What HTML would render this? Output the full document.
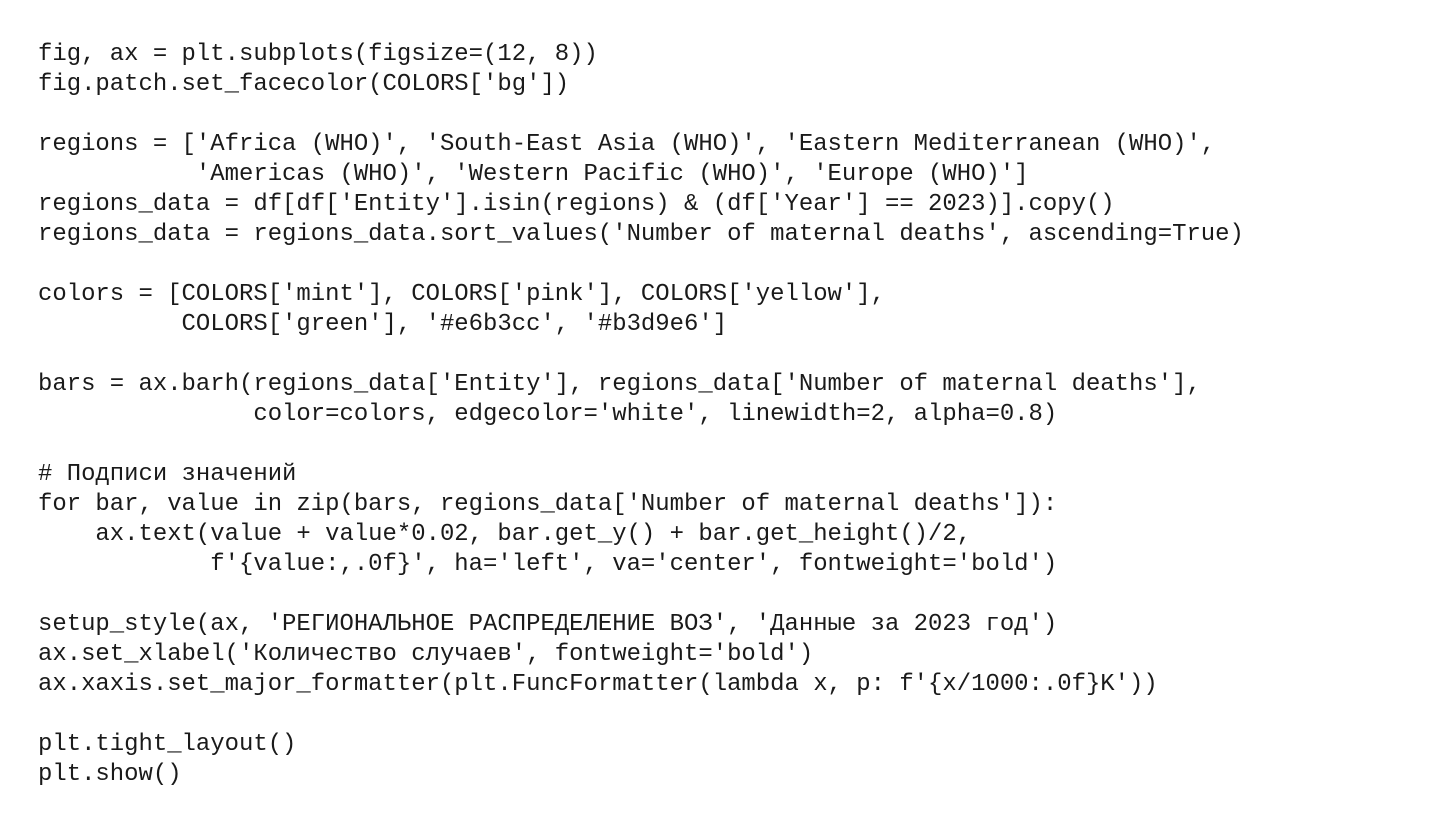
<!DOCTYPE html>
<html><head><meta charset="utf-8"><style>
html,body{margin:0;padding:0;background:#fff;width:1440px;height:825px;overflow:hidden}
pre{position:absolute;left:38px;top:40px;margin:0;font-family:"Liberation Mono","DejaVu Sans Mono",monospace;font-size:23.93px;line-height:30px;color:#1a1a1a}
</style></head><body>
<pre>fig, ax = plt.subplots(figsize=(12, 8))
fig.patch.set_facecolor(COLORS['bg'])

regions = ['Africa (WHO)', 'South-East Asia (WHO)', 'Eastern Mediterranean (WHO)',
           'Americas (WHO)', 'Western Pacific (WHO)', 'Europe (WHO)']
regions_data = df[df['Entity'].isin(regions) &amp; (df['Year'] == 2023)].copy()
regions_data = regions_data.sort_values('Number of maternal deaths', ascending=True)

colors = [COLORS['mint'], COLORS['pink'], COLORS['yellow'],
          COLORS['green'], '#e6b3cc', '#b3d9e6']

bars = ax.barh(regions_data['Entity'], regions_data['Number of maternal deaths'],
               color=colors, edgecolor='white', linewidth=2, alpha=0.8)

# Подписи значений
for bar, value in zip(bars, regions_data['Number of maternal deaths']):
    ax.text(value + value*0.02, bar.get_y() + bar.get_height()/2,
            f'{value:,.0f}', ha='left', va='center', fontweight='bold')

setup_style(ax, 'РЕГИОНАЛЬНОЕ РАСПРЕДЕЛЕНИЕ ВОЗ', 'Данные за 2023 год')
ax.set_xlabel('Количество случаев', fontweight='bold')
ax.xaxis.set_major_formatter(plt.FuncFormatter(lambda x, p: f'{x/1000:.0f}K'))

plt.tight_layout()
plt.show()</pre>
</body></html>
